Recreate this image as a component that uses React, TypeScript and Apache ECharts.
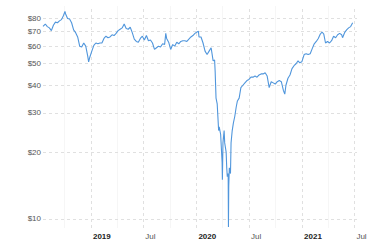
import React, { useEffect, useRef } from "react";
import * as echarts from "echarts";

const dates = [
  "2018-07-19","2018-07-27","2018-08-03","2018-08-10","2018-08-17","2018-08-24","2018-08-31","2018-09-07","2018-09-14","2018-09-21","2018-09-28","2018-10-03","2018-10-05","2018-10-12","2018-10-19","2018-10-26","2018-11-02","2018-11-09","2018-11-16","2018-11-23","2018-11-30","2018-12-07","2018-12-14","2018-12-21","2018-12-24","2018-12-28",
  "2019-01-04","2019-01-11","2019-01-18","2019-01-25","2019-02-01","2019-02-08","2019-02-15","2019-02-22","2019-03-01","2019-03-08","2019-03-15","2019-03-22","2019-03-29","2019-04-05","2019-04-12","2019-04-19","2019-04-26","2019-05-03","2019-05-10","2019-05-17","2019-05-24","2019-05-31","2019-06-07","2019-06-14","2019-06-21","2019-06-28","2019-07-05","2019-07-12","2019-07-19","2019-07-26","2019-08-02","2019-08-09","2019-08-16","2019-08-23","2019-08-30","2019-09-06","2019-09-13","2019-09-17","2019-09-20","2019-09-27","2019-10-04","2019-10-11","2019-10-18","2019-10-25","2019-11-01","2019-11-08","2019-11-15","2019-11-22","2019-11-29","2019-12-06","2019-12-13","2019-12-20","2019-12-27",
  "2020-01-03","2020-01-08","2020-01-10","2020-01-17","2020-01-24","2020-01-31","2020-02-07","2020-02-14","2020-02-21","2020-02-28","2020-03-04","2020-03-06","2020-03-09","2020-03-13","2020-03-18","2020-03-20","2020-03-25","2020-03-30","2020-03-31","2020-04-02","2020-04-06","2020-04-08","2020-04-13","2020-04-15","2020-04-17","2020-04-20","2020-04-21","2020-04-22","2020-04-24","2020-04-28","2020-04-30","2020-05-04","2020-05-08","2020-05-13","2020-05-18","2020-05-22","2020-05-28","2020-06-03","2020-06-10","2020-06-17","2020-06-24","2020-07-01","2020-07-08","2020-07-15","2020-07-22","2020-07-29","2020-08-05","2020-08-12","2020-08-19","2020-08-26","2020-09-02","2020-09-09","2020-09-16","2020-09-23","2020-09-30","2020-10-07","2020-10-14","2020-10-21","2020-10-28","2020-11-02","2020-11-06","2020-11-13","2020-11-20","2020-11-27","2020-12-04","2020-12-11","2020-12-18","2020-12-24","2020-12-31",
  "2021-01-08","2021-01-15","2021-01-22","2021-01-29","2021-02-05","2021-02-12","2021-02-19","2021-02-26","2021-03-05","2021-03-11","2021-03-17","2021-03-23","2021-03-30","2021-04-06","2021-04-13","2021-04-20","2021-04-27","2021-05-04","2021-05-11","2021-05-18","2021-05-21","2021-05-28","2021-06-04","2021-06-11","2021-06-18","2021-06-25"
];

const prices = [
  73.6,75.5,73.5,72.5,70.5,74.5,77,76.5,78,79,82.5,86,84,80,79.5,76.5,71,69,66,60,59.5,62,60,54,51,53.5,
  57,60.5,62,61.5,62,62,65,66.5,65.5,66,67.5,67,68.5,70.5,71.5,72.5,75.5,72,71.5,73,69,64.5,63,62.5,65,66.5,64,67,63.5,64,62,58,59,60,59.5,61.5,61,68.5,65,62.5,58,61,60,62.5,61.5,63,63.5,63.5,63,64.5,66,67,68.5,
  69.5,70,66,66,62,57,55,57,59,51.5,52,46,35,33,25,26,24,18,15,22,25,22,20,17,15.5,16,9.2,14,17,16,22,25,27,29,32,34,35,39,40,41,42,42.5,43.5,43.5,44,43.5,44.5,45,45,45.5,44,39,41.5,41,40.5,41.5,42,41.5,38,36.5,40,43,44.5,47.5,49,50,51.5,50.5,51,
  55,55.5,55,55.5,58.5,61.5,63,65,68,69.5,68,62,63,62,63.5,66.5,65.5,67.5,68.5,67.5,65.5,69,71,72.5,73.5,76.5
];

const yTicks = [10, 20, 30, 40, 50, 60, 70, 80];
const xTicks = ["2019-01-01", "2019-07-01", "2020-01-01", "2020-07-01", "2021-01-01", "2021-07-01"];
const xTickLabels = ["2019", "Jul", "2020", "Jul", "2021", "Jul"];
const xMinorTicks = ["2018-10-01", "2019-04-01", "2019-10-01", "2020-04-01", "2020-10-01", "2021-04-01"];

export default function App() {
  const ref = useRef<HTMLDivElement>(null);
  useEffect(() => {
    if (!ref.current) return;
    const chart = echarts.init(ref.current, undefined, { renderer: "svg" });
    const gridStyle = { type: [3, 3] as any, color: "#e0e0e0", width: 1 };
    const markData: any[] = [];
    xMinorTicks.forEach((d) => {
      markData.push({
        xAxis: d,
        lineStyle: { type: "solid", color: "#f6f6f6", width: 1 },
        label: { show: false },
      });
    });
    yTicks.forEach((v) => {
      markData.push({
        yAxis: v,
        lineStyle: gridStyle,
        label: {
          show: true,
          position: "start",
          formatter: "$" + v,
          color: "#555",
          fontSize: 8,
          fontFamily: "Liberation Sans, Arial, sans-serif",
          distance: 2,
        },
      });
    });
    xTicks.forEach((d, i) => {
      const isYear = xTickLabels[i] !== "Jul";
      markData.push({
        xAxis: d,
        lineStyle: gridStyle,
        label: {
          show: true,
          position: "start",
          formatter: xTickLabels[i],
          color: isYear ? "#222" : "#555",
          fontWeight: isYear ? "bold" : "normal",
          fontSize: 8,
          fontFamily: "Liberation Sans, Arial, sans-serif",
          align: "left",
          padding: [0, 0, 0, 2],
          distance: 4,
        },
      });
    });
    chart.setOption({
      animation: false,
      grid: { left: 43, right: 23, top: 6, bottom: 12 },
      xAxis: {
        type: "time",
        min: "2018-07-19",
        max: "2021-07-10",
        axisLine: { show: false },
        axisTick: { show: false },
        axisLabel: { show: false },
        splitLine: { show: false },
      },
      yAxis: {
        type: "log",
        min: 9.1,
        max: 91,
        axisLine: { show: false },
        axisTick: { show: false },
        axisLabel: { show: false },
        splitLine: { show: false },
        minorSplitLine: { show: false },
      },
      series: [
        {
          type: "line",
          data: dates.map((d, i) => [d, prices[i]]),
          showSymbol: false,
          symbol: "none",
          lineStyle: { color: "#5096dc", width: 1.1 },
          z: 3,
          markLine: {
            silent: true,
            symbol: ["none", "none"],
            z: 1,
            animation: false,
            data: markData,
          },
        },
      ],
    });
    return () => chart.dispose();
  }, []);
  return (
    <div
      ref={ref}
      style={{ position: "fixed", left: 0, top: 0, width: 380, height: 240, background: "#fff" }}
    />
  );
}
